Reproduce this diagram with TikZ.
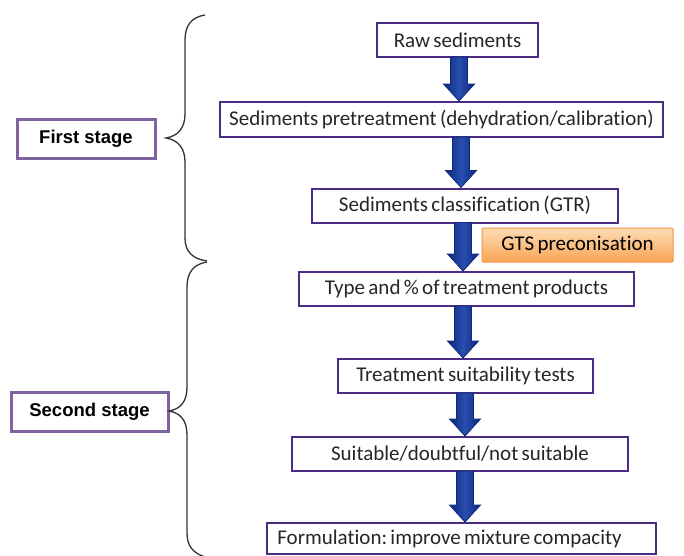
\documentclass[tikz,border=0pt]{standalone}
\usepackage{fontspec}
\setmainfont{Carlito}[Ligatures=CommonOff, WordSpace=0.7]
\newfontfamily\labfont{Liberation Sans}
\usetikzlibrary{calc}
\frenchspacing
\definecolor{flowborder}{RGB}{75,45,131}
\definecolor{stageborder}{RGB}{128,100,162}
\definecolor{arrowdark}{RGB}{14,40,125}
\definecolor{arrowmid}{RGB}{40,78,175}
\definecolor{gtsborder}{RGB}{240,150,70}
\definecolor{gtstop}{RGB}{253,220,180}
\definecolor{gtsbottom}{RGB}{249,165,85}
\tikzset{
  flowbox/.style={draw=flowborder, line width=2pt, fill=white, inner sep=0pt,
    font=\frenchspacing\fontsize{21}{24}\selectfont, text=black!85},
  stagebox/.style={draw=stageborder, line width=3pt, fill=white, inner sep=0pt,
    font=\labfont\bfseries\fontsize{18.5}{21}\selectfont},
  gtsbox/.style={draw=gtsborder, line width=1pt, top color=gtstop, bottom color=gtsbottom,
    inner sep=0pt, rounded corners=1pt, font=\fontsize{21}{24}\selectfont},
  barrow/.style={draw=arrowdark, line width=0.8pt, left color=arrowdark, right color=arrowdark, middle color=arrowmid},
  bracestyle/.style={draw=black!80, line width=1.3pt}
}
\newcommand\blockarrow[3]{%
  \path[barrow] ($(#1.south -| #3)+(-8.5,-1)$) -- ($(#2.north -| #3)+(-8.5,-17)$) --
    ($(#2.north -| #3)+(-15.5,-17)$) -- (#2.north -| #3) -- ($(#2.north -| #3)+(15.5,-17)$) --
    ($(#2.north -| #3)+(8.5,-17)$) -- ($(#1.south -| #3)+(8.5,-1)$) -- cycle;}
\begin{document}
\begin{tikzpicture}[x=1pt,y=-1pt]
\useasboundingbox (0,0) rectangle (684,555);
\fill[white] (0,0) rectangle (684,555);
% arrow axes
\coordinate (ax1) at (459,0);
\coordinate (ax2) at (461,0);
\coordinate (ax3) at (463,0);
\coordinate (ax4) at (463,0);
\coordinate (ax5) at (465,0);
\coordinate (ax6) at (465,0);
% boxes
\node[flowbox, minimum width=161pt, minimum height=34pt] (raw) at (457.5,40) {Raw sediments};
\node[flowbox, minimum width=443pt, minimum height=35pt] (pre) at (441.5,119.5) {Sediments pretreatment (dehydration/calibration)};
\node[flowbox, minimum width=306pt, minimum height=34pt] (cls) at (465,205.5) {Sediments classification (GTR)};
\node[flowbox, minimum width=335pt, minimum height=34pt] (typ) at (466.5,289) {Type and \% of treatment products};
\node[flowbox, minimum width=255pt, minimum height=34pt] (tst) at (465.5,376) {Treatment suitability tests};
\node[flowbox, minimum width=336pt, minimum height=34pt] (sui) at (460,454) {Suitable/doubtful/not suitable};
\node[flowbox, minimum width=389pt, minimum height=31pt] (frm) at (461.5,538.5) {Formulation: improve mixture compacity\kern24pt\relax};
% arrows
\blockarrow{raw}{pre}{ax1}
\blockarrow{pre}{cls}{ax2}
\blockarrow{cls}{typ}{ax3}
\blockarrow{typ}{tst}{ax4}
\blockarrow{tst}{sui}{ax5}
\blockarrow{sui}{frm}{ax6}
% GTS
\node[gtsbox, minimum width=191pt, minimum height=34pt] (gts) at (577.5,245) {GTS preconisation};
% stage labels
\node[stagebox, minimum width=138pt, minimum height=39pt] (st1) at (86,138.5) {First stage};
\node[stagebox, minimum width=157pt, minimum height=39pt] (st2) at (89.5,411.5) {Second stage};
% braces
\coordinate (b1tip) at (166,138);
\coordinate (b2tip) at (169,411);
\path[bracestyle] (205,15) .. controls (192,17) and (185,25) .. (185,40) -- (185,114)
  .. controls (185,128) and (178,136) .. (b1tip) .. controls (178,140) and (185,148) .. (185,162)
  -- (185,238) .. controls (185,252) and (193,259) .. (207,261);
\path[bracestyle] (207,262) .. controls (194,264) and (187,272) .. (187,287) -- (187,387)
  .. controls (187,401) and (181,409) .. (b2tip) .. controls (181,413) and (187,421) .. (187,435)
  -- (187,533) .. controls (187,546) and (193,553) .. (205,557);
\end{tikzpicture}
\end{document}
